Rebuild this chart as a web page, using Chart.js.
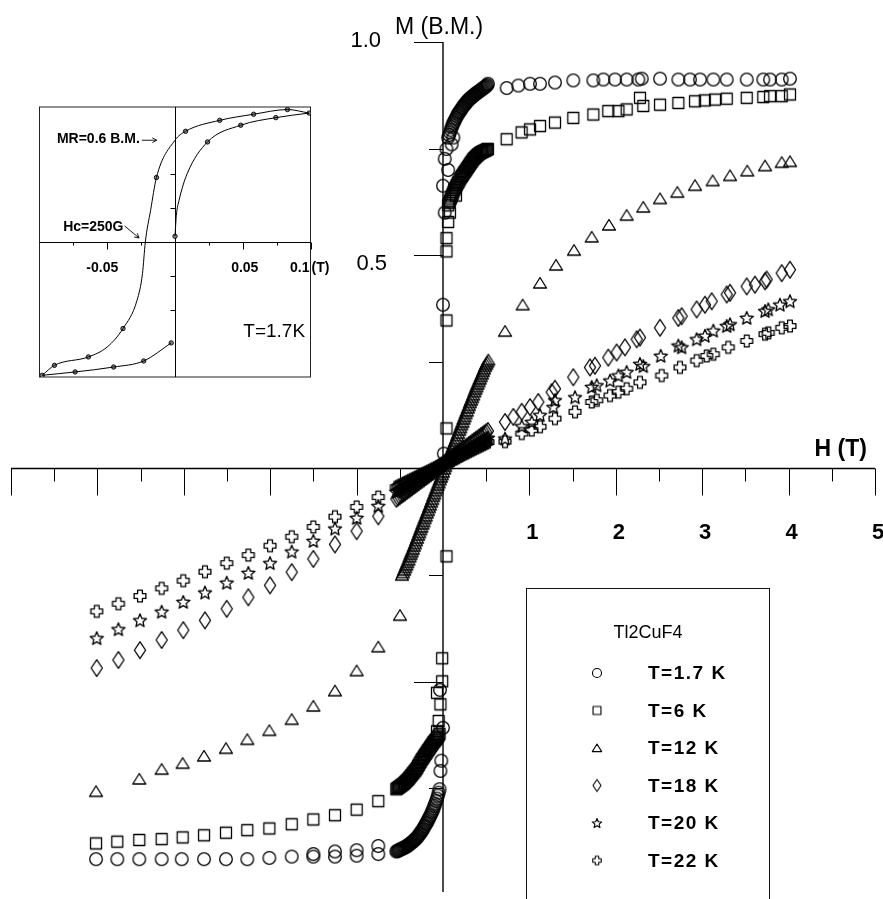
<!DOCTYPE html>
<html>
<head>
<meta charset="utf-8">
<script src="https://cdn.jsdelivr.net/npm/chart.js@4.4.1/dist/chart.umd.min.js"></script>
<style>
  html, body { margin: 0; padding: 0; background: #fff; overflow: hidden; }
  #wrap { position: relative; width: 883px; height: 899px; }
  #main { position: absolute; left: 0; top: 0; }
  #inset { position: absolute; left: 0; top: 90px; }
</style>
</head>
<body>
<div id="wrap">
  <canvas id="main" width="883" height="899"></canvas>
  <canvas id="inset" width="340" height="300"></canvas>
</div>
<script>
const FONT = '"Liberation Sans", Arial, Helvetica, sans-serif';

// series: [H (T), M (B.M.)]
const seriesLabels = ['T=1.7 K', 'T=6 K', 'T=12 K', 'T=18 K', 'T=20 K', 'T=22 K'];
const seriesShapes = ['circle', 'square', 'triangle', 'diamond', 'star', 'cross'];

// sparse points (and the few stray points near H = 0)
const t1_7 = [
  [0.01,0.035],[0.0,0.384],[0.02,0.60],[0.0,0.663],[0.06,0.70],[0.02,0.726],[0.04,0.749],[0.1,0.76],[0.12,0.776],
  [0.737,0.892],[0.872,0.898],[1.007,0.902],[1.123,0.902],[1.296,0.905],[1.508,0.91],[1.74,0.91],[1.856,0.912],[1.991,0.912],
  [2.126,0.912],[2.261,0.912],[2.30,0.914],[2.512,0.914],[2.724,0.912],[2.859,0.912],[2.975,0.912],[3.129,0.912],[3.284,0.912],
  [3.515,0.912],[3.707,0.912],[3.785,0.912],[3.92,0.912],[4.016,0.914],
  [-4.016,-0.916],[-3.77,-0.916],[-3.515,-0.916],[-3.256,-0.916],[-3.024,-0.916],[-2.766,-0.916],[-2.512,-0.916],[-2.265,-0.916],
  [-2.01,-0.913],[-1.751,-0.91],[-1.501,-0.91],[-1.501,-0.904],[-1.25,-0.91],[-1.25,-0.898],[-0.999,-0.908],[-0.999,-0.895],
  [-0.749,-0.904],[-0.749,-0.885],
  [-0.03,-0.709],[-0.02,-0.685],[0.0,-0.608],[-0.035,-0.519]
];

const t6 = [
  [0.04,-0.206],[0.04,0.094],[0.04,0.347],[0.04,0.509],[0.04,0.54],[0.06,0.578],[0.08,0.60],[0.15,0.64],
  [0.737,0.772],[0.91,0.788],[1.007,0.795],[1.123,0.803],[1.296,0.811],[1.508,0.822],[1.74,0.83],[1.913,0.838],[2.03,0.838],
  [2.126,0.842],[2.28,0.869],[2.318,0.85],[2.512,0.853],[2.724,0.857],[2.917,0.861],[3.03,0.863],[3.148,0.865],[3.284,0.867],
  [3.515,0.869],[3.707,0.871],[3.785,0.873],[3.92,0.873],[4.016,0.877],
  [-4.016,-0.879],[-3.77,-0.875],[-3.515,-0.871],[-3.256,-0.869],[-3.013,-0.865],[-2.766,-0.86],[-2.512,-0.854],[-2.265,-0.848],
  [-2.01,-0.844],[-1.751,-0.834],[-1.501,-0.823],[-1.25,-0.813],[-0.999,-0.80],[-0.749,-0.78],
  [-0.07,-0.616],[-0.05,-0.592],[-0.03,-0.553],[-0.07,-0.526],[-0.01,-0.499],[-0.01,-0.445]
];

const t12 = [
  [0.718,0.322],[0.922,0.384],[1.123,0.435],[1.308,0.477],[1.516,0.512],[1.721,0.543],[1.921,0.571],[2.126,0.594],
  [2.318,0.613],[2.512,0.633],[2.712,0.648],[2.917,0.664],[3.121,0.675],[3.322,0.687],[3.522,0.698],[3.727,0.71],
  [3.92,0.718],[4.016,0.72],
  [-4.016,-0.757],[-3.515,-0.728],[-3.256,-0.705],[-3.013,-0.691],[-2.766,-0.674],[-2.512,-0.656],[-2.265,-0.635],
  [-2.01,-0.614],[-1.751,-0.588],[-1.501,-0.557],[-1.25,-0.521],[-0.999,-0.474],[-0.749,-0.418],[-0.498,-0.344]
];

const t18 = [
  [0.718,0.109],[0.814,0.121],[0.911,0.133],[1.007,0.144],[1.103,0.156],[1.258,0.179],[1.296,0.187],[1.508,0.214],
  [1.701,0.237],[1.759,0.241],[1.913,0.26],[2.01,0.272],[2.106,0.284],[2.242,0.303],[2.28,0.307],[2.512,0.33],[2.724,0.353],
  [2.762,0.357],[2.936,0.373],[3.032,0.384],[3.11,0.392],[3.284,0.408],[3.322,0.412],[3.515,0.427],[3.611,0.431],
  [3.727,0.439],[3.746,0.443],[3.92,0.458],[4.016,0.466],
  [-4.008,-0.468],[-3.757,-0.449],[-3.507,-0.426],[-3.256,-0.402],[-3.006,-0.379],[-2.755,-0.356],[-2.503,-0.329],
  [-2.253,-0.302],[-2.002,-0.274],[-1.751,-0.243],[-1.501,-0.212],[-1.25,-0.178],[-0.999,-0.147],[-0.749,-0.112]
];

const t20 = [
  [0.718,0.07],[0.911,0.099],[1.027,0.109],[1.123,0.125],[1.277,0.144],[1.296,0.16],[1.528,0.167],[1.721,0.191],
  [1.779,0.195],[1.933,0.206],[2.03,0.218],[2.126,0.226],[2.28,0.245],[2.318,0.24],[2.52,0.264],[2.724,0.288],[2.762,0.284],
  [2.936,0.303],[3.032,0.311],[3.129,0.323],[3.284,0.334],[3.322,0.338],[3.515,0.353],[3.727,0.369],[3.765,0.373],
  [3.9,0.384],[4.016,0.392],
  [-4.008,-0.398],[-3.757,-0.377],[-3.507,-0.356],[-3.256,-0.336],[-3.006,-0.313],[-2.755,-0.291],[-2.503,-0.268],
  [-2.253,-0.245],[-2.002,-0.222],[-1.751,-0.195],[-1.501,-0.17],[-1.25,-0.141],[-0.999,-0.116],[-0.749,-0.088]
];

const t22 = [
  [0.718,0.063],[0.911,0.082],[1.027,0.09],[1.123,0.098],[1.296,0.117],[1.528,0.133],[1.721,0.156],[1.779,0.16],
  [1.933,0.171],[2.03,0.179],[2.126,0.187],[2.28,0.202],[2.531,0.218],[2.743,0.237],[2.936,0.253],[3.052,0.264],
  [3.129,0.268],[3.302,0.284],[3.515,0.299],[3.727,0.315],[3.765,0.318],[3.92,0.33],[4.016,0.334],
  [-4.008,-0.335],[-3.757,-0.317],[-3.507,-0.299],[-3.256,-0.281],[-3.006,-0.263],[-2.755,-0.242],[-2.503,-0.222],
  [-2.253,-0.203],[-2.002,-0.181],[-1.751,-0.16],[-1.501,-0.137],[-1.25,-0.113],[-0.999,-0.09],[-0.749,-0.067]
];

// dense low-field sweeps (the black bands)
const sweepHpos = [0.06,0.07,0.08,0.09,0.10,0.11,0.12,0.13,0.14,0.15,0.16,0.17,0.18,0.19,0.20,0.21,0.22,0.23,0.24,0.25,
  0.26,0.27,0.28,0.29,0.30,0.31,0.32,0.33,0.34,0.35,0.36,0.37,0.38,0.39,0.40,0.41,0.42,0.43,0.44,0.45,0.46,0.47,0.48,
  0.49,0.50,0.51,0.52];
const sweep1_7pos = [0.776,0.782,0.788,0.794,0.80,0.805,0.81,0.814,0.818,0.822,0.826,0.83,0.833,0.836,0.839,0.842,0.845,
  0.848,0.851,0.853,0.856,0.858,0.861,0.863,0.865,0.867,0.869,0.87,0.872,0.874,0.876,0.877,0.879,0.88,0.882,0.883,0.885,
  0.886,0.888,0.889,0.891,0.892,0.894,0.895,0.897,0.899,0.902];
const sweep6pos = [0.617,0.623,0.628,0.633,0.638,0.643,0.648,0.653,0.657,0.661,0.665,0.669,0.672,0.676,0.68,0.683,0.686,
  0.689,0.692,0.695,0.698,0.701,0.704,0.707,0.71,0.713,0.716,0.719,0.722,0.725,0.727,0.729,0.731,0.733,0.735,0.737,0.738,
  0.74,0.741,0.742,0.743,0.744,0.745,0.746,0.747,0.748,0.749];

const sweepHneg = [-0.54,-0.53,-0.52,-0.51,-0.50,-0.49,-0.48,-0.47,-0.46,-0.45,-0.44,-0.43,-0.42,-0.41,-0.40,-0.39,-0.38,
  -0.37,-0.36,-0.35,-0.34,-0.33,-0.32,-0.31,-0.30,-0.29,-0.28,-0.27,-0.26,-0.25,-0.24,-0.23,-0.22,-0.21,-0.20,-0.19,-0.18,
  -0.17,-0.16,-0.15,-0.14,-0.13,-0.12,-0.11,-0.10,-0.09,-0.08,-0.07,-0.06,-0.05,-0.04];
const sweep1_7neg = [-0.898,-0.897,-0.896,-0.895,-0.894,-0.893,-0.892,-0.891,-0.89,-0.889,-0.888,-0.887,-0.886,-0.884,
  -0.883,-0.881,-0.88,-0.878,-0.876,-0.875,-0.873,-0.871,-0.869,-0.867,-0.865,-0.862,-0.86,-0.857,-0.854,-0.851,-0.848,
  -0.845,-0.841,-0.838,-0.834,-0.831,-0.827,-0.823,-0.819,-0.815,-0.811,-0.806,-0.802,-0.797,-0.791,-0.786,-0.78,-0.774,
  -0.767,-0.76,-0.752];
const sweep6neg = [-0.752,-0.75,-0.749,-0.747,-0.746,-0.744,-0.743,-0.741,-0.74,-0.738,-0.736,-0.734,-0.732,-0.73,-0.728,
  -0.725,-0.723,-0.72,-0.718,-0.715,-0.713,-0.71,-0.708,-0.705,-0.702,-0.698,-0.695,-0.691,-0.688,-0.684,-0.681,-0.678,
  -0.675,-0.672,-0.669,-0.666,-0.663,-0.66,-0.657,-0.654,-0.651,-0.648,-0.645,-0.642,-0.64,-0.637,-0.635,-0.632,-0.629,
  -0.626,-0.622];

const sweepH12 = [-0.475,-0.4625,-0.45,-0.4375,-0.425,-0.4125,-0.4,-0.3875,-0.375,-0.3625,-0.35,-0.3375,-0.325,-0.3125,
  -0.3,-0.2875,-0.275,-0.2625,-0.25,-0.2375,-0.225,-0.2125,-0.2,-0.1875,-0.175,-0.1625,-0.15,-0.1375,-0.125,-0.1125,-0.1,
  -0.0875,-0.075,-0.0625,-0.05,-0.0375,-0.025,-0.0125,0,0.0125,0.025,0.0375,0.05,0.0625,0.075,0.0875,0.1,0.1125,0.125,
  0.1375,0.15,0.1625,0.175,0.1875,0.2,0.2125,0.225,0.2375,0.25,0.2625,0.275,0.2875,0.3,0.3125,0.325,0.3375,0.35,0.3625,
  0.375,0.3875,0.4,0.4125,0.425,0.4375,0.45,0.4625,0.475,0.4875,0.5,0.5125,0.525];
const sweep12 = [-0.25,-0.244,-0.238,-0.232,-0.226,-0.22,-0.214,-0.207,-0.201,-0.195,-0.189,-0.182,-0.176,-0.169,-0.163,
  -0.156,-0.15,-0.143,-0.137,-0.13,-0.124,-0.117,-0.111,-0.104,-0.098,-0.091,-0.085,-0.078,-0.072,-0.065,-0.059,-0.052,
  -0.046,-0.039,-0.033,-0.026,-0.02,-0.014,-0.008,-0.001,0.005,0.012,0.018,0.025,0.031,0.038,0.044,0.051,0.057,0.064,
  0.07,0.077,0.083,0.09,0.096,0.103,0.109,0.116,0.122,0.129,0.135,0.142,0.148,0.155,0.161,0.167,0.173,0.18,0.186,0.192,
  0.198,0.204,0.21,0.216,0.222,0.228,0.234,0.24,0.245,0.25,0.255];

const sweepHband = [-0.54,-0.52,-0.50,-0.48,-0.46,-0.44,-0.42,-0.40,-0.38,-0.36,-0.34,-0.32,-0.30,-0.28,-0.26,-0.24,
  -0.22,-0.20,-0.18,-0.16,-0.14,-0.12,-0.10,-0.08,-0.06,-0.04,-0.02,0.0,0.02,0.04,0.06,0.08,0.10,0.12,0.14,0.16,0.18,
  0.20,0.22,0.24,0.26,0.28,0.30,0.32,0.34,0.36,0.38,0.40,0.42,0.44,0.46,0.48,0.50,0.52];
const sweep18 = [-0.071,-0.068,-0.065,-0.062,-0.059,-0.056,-0.053,-0.05,-0.047,-0.044,-0.041,-0.038,-0.035,-0.032,
  -0.029,-0.026,-0.023,-0.02,-0.017,-0.014,-0.011,-0.008,-0.005,-0.002,0.001,0.004,0.007,0.01,0.013,0.016,0.019,0.022,
  0.025,0.028,0.031,0.034,0.037,0.04,0.043,0.046,0.049,0.052,0.055,0.058,0.061,0.064,0.067,0.07,0.073,0.076,0.079,
  0.082,0.085,0.088];
const sweep20 = [-0.055,-0.053,-0.05,-0.048,-0.046,-0.043,-0.041,-0.038,-0.036,-0.034,-0.031,-0.029,-0.026,-0.024,
  -0.022,-0.019,-0.017,-0.014,-0.012,-0.01,-0.007,-0.005,-0.002,0.0,0.002,0.005,0.007,0.01,0.012,0.014,0.017,0.019,
  0.022,0.024,0.026,0.029,0.031,0.034,0.036,0.038,0.041,0.043,0.046,0.048,0.05,0.053,0.055,0.058,0.06,0.062,0.065,
  0.067,0.07,0.072];
const sweep22 = [-0.044,-0.042,-0.04,-0.038,-0.036,-0.034,-0.032,-0.03,-0.028,-0.026,-0.024,-0.022,-0.02,-0.018,
  -0.016,-0.014,-0.012,-0.01,-0.008,-0.006,-0.004,-0.002,0.0,0.002,0.004,0.006,0.008,0.01,0.012,0.014,0.016,0.018,
  0.02,0.022,0.024,0.026,0.028,0.03,0.032,0.034,0.036,0.038,0.04,0.042,0.044,0.046,0.048,0.05,0.052,0.054,0.056,
  0.058,0.06,0.062];

// axis ticks of the main plot
const hTicks = [-5, -4.5, -4, -3.5, -3, -2.5, -2, -1.5, -1, -0.5, 0.5, 1, 1.5, 2, 2.5, 3, 3.5, 4, 4.5, 5];
const hLabels = [1, 2, 3, 4, 5];
const mTicks = [-0.75, -0.5, -0.25, 0.25, 0.5, 0.75, 1.0];
const mMajor = [-0.5, 0.5, 1.0];
const mLabels = ['0.5', '1.0'];

// inset: hysteresis loop at 1.7 K, H (T) vs M (B.M.)
const insetVirgin = [[0.0,0.034],[0.001,0.158],[0.003,0.247],[0.009,0.405],[0.024,0.593],[0.0485,0.692],[0.0744,0.737],[0.099,0.764]];
const insetDown = [[-0.098,-0.79],[-0.089,-0.731],[-0.0639,-0.681],[-0.05,-0.622],[-0.0384,-0.513],[-0.028,-0.345],
  [-0.024,-0.187],[-0.0219,0.0],[-0.018,0.188],[-0.0137,0.382],[0.0,0.603],[0.0078,0.656],[0.033,0.721],[0.058,0.757],
  [0.083,0.785],[0.099,0.764]];
const insetReturn = [[-0.098,-0.79],[-0.0737,-0.77],[-0.0453,-0.741],[-0.0231,-0.705],[-0.0028,-0.598]];
const insetDots = [[0.0,0.034],[0.024,0.593],[0.0485,0.692],[0.0744,0.737],[0.099,0.764],[0.083,0.785],[0.058,0.757],
  [0.033,0.721],[0.0078,0.656],[-0.0137,0.382],[-0.0384,-0.513],[-0.0639,-0.681],[-0.089,-0.731],[-0.098,-0.79],
  [-0.0737,-0.77],[-0.0453,-0.741],[-0.0231,-0.705],[-0.0028,-0.598]];
const insetHTicks = [-0.075, -0.05, -0.025, 0.025, 0.05, 0.075, 0.1];
const insetHMajor = [-0.05, 0.05, 0.1];
const insetMTicks = [-0.4, -0.2, 0.2, 0.4];

function toXY(arr) {
  return arr.map(p => ({ x: p[0], y: p[1] }));
}
function zipXY(hs, ms) {
  return hs.map((h, i) => ({ x: h, y: ms[i] }));
}

const seriesData = [
  toXY(t1_7).concat(zipXY(sweepHpos, sweep1_7pos), zipXY(sweepHneg, sweep1_7neg)),
  toXY(t6).concat(zipXY(sweepHpos, sweep6pos), zipXY(sweepHneg, sweep6neg)),
  toXY(t12).concat(zipXY(sweepH12, sweep12)),
  toXY(t18).concat(zipXY(sweepHband, sweep18)),
  toXY(t20).concat(zipXY(sweepHband, sweep20)),
  toXY(t22).concat(zipXY(sweepHband, sweep22))
];

// hollow markers drawn on small canvases
function makeMarker(kind, s, lw) {
  const c = document.createElement('canvas');
  const size = 22;
  c.width = size; c.height = size;
  const g = c.getContext('2d');
  const cx = size / 2, cy = size / 2;
  g.strokeStyle = '#000';
  g.lineWidth = lw;
  g.lineJoin = 'round';
  g.beginPath();
  if (kind === 'circle') {
    g.arc(cx, cy, 6.3 * s, 0, Math.PI * 2);
  } else if (kind === 'square') {
    g.rect(cx - 5.5 * s, cy - 5.5 * s, 11 * s, 11 * s);
  } else if (kind === 'triangle') {
    g.moveTo(cx, cy - 5.5 * s);
    g.lineTo(cx + 6.5 * s, cy + 5 * s);
    g.lineTo(cx - 6.5 * s, cy + 5 * s);
    g.closePath();
  } else if (kind === 'diamond') {
    g.moveTo(cx, cy - 8.3 * s);
    g.lineTo(cx + 5.6 * s, cy);
    g.lineTo(cx, cy + 8.3 * s);
    g.lineTo(cx - 5.6 * s, cy);
    g.closePath();
  } else if (kind === 'star') {
    for (let i = 0; i < 10; i++) {
      const r = (i % 2 ? 3.1 : 7) * s;
      const a = -Math.PI / 2 + i * Math.PI / 5;
      const px = cx + r * Math.cos(a), py = cy + 0.5 + r * Math.sin(a);
      if (i === 0) g.moveTo(px, py); else g.lineTo(px, py);
    }
    g.closePath();
  } else if (kind === 'cross') {
    const a = 2.4 * s, b = 5.9 * s;
    const pts = [[-a,-b],[a,-b],[a,-a],[b,-a],[b,a],[a,a],[a,b],[-a,b],[-a,a],[-b,a],[-b,-a],[-a,-a]];
    pts.forEach((p, i) => { if (i === 0) g.moveTo(cx + p[0], cy + p[1]); else g.lineTo(cx + p[0], cy + p[1]); });
    g.closePath();
  }
  g.stroke();
  return c;
}

const plotMarkers = seriesShapes.map(k => makeMarker(k, 1, 1.3));
const legendMarkers = seriesShapes.map(k => makeMarker(k, 0.72, 1.1));

const crossAxes = {
  id: 'crossAxes',
  beforeDatasetsDraw(chart) {
    const { ctx, chartArea } = chart;
    const x = chart.scales.x, y = chart.scales.y;
    const x0 = x.getPixelForValue(0), y0 = y.getPixelForValue(0);
    ctx.save();
    ctx.strokeStyle = '#000';
    ctx.lineWidth = 1.4;
    ctx.beginPath();
    ctx.moveTo(x.getPixelForValue(-5), y0);
    ctx.lineTo(x.getPixelForValue(5), y0);
    ctx.moveTo(x0, y.getPixelForValue(1));
    ctx.lineTo(x0, chartArea.bottom);
    ctx.stroke();

    ctx.lineWidth = 1;
    ctx.beginPath();
    hTicks.forEach(v => {
      const px = Math.round(x.getPixelForValue(v)) + 0.5;
      const len = Number.isInteger(v) ? 27 : 13;
      ctx.moveTo(px, y0);
      ctx.lineTo(px, y0 + len);
    });
    mTicks.forEach(v => {
      const py = Math.round(y.getPixelForValue(v)) + 0.5;
      const len = mMajor.includes(v) ? 29 : 14;
      ctx.moveTo(x0, py);
      ctx.lineTo(x0 - len, py);
    });
    ctx.stroke();

    ctx.fillStyle = '#000';
    ctx.font = 'bold 22px ' + FONT;
    ctx.textAlign = 'center';
    ctx.textBaseline = 'alphabetic';
    hLabels.forEach(v => {
      ctx.fillText(String(v), x.getPixelForValue(v) + 3, y0 + 71);
    });

    ctx.font = '22px ' + FONT;
    ctx.textAlign = 'right';
    const labelDy = { '0.5': 15, '1.0': 5 };
    const labelDx = { '0.5': 56, '1.0': 62 };
    mLabels.forEach(t => {
      ctx.fillText(t, x0 - labelDx[t], y.getPixelForValue(parseFloat(t)) + labelDy[t]);
    });

    ctx.textAlign = 'left';
    ctx.font = '23px ' + FONT;
    ctx.fillText('M (B.M.)', x0 - 48, 34);
    ctx.font = 'bold 23px ' + FONT;
    ctx.fillText('H (T)', x.getPixelForValue(4.3), y0 - 12);
    ctx.restore();
  },
  afterDraw(chart) {
    // boxed legend, lower right
    const ctx = chart.ctx;
    ctx.save();
    ctx.strokeStyle = '#111';
    ctx.lineWidth = 1;
    ctx.strokeRect(526.5, 588.5, 243, 330);
    ctx.fillStyle = '#000';
    ctx.textBaseline = 'middle';
    ctx.textAlign = 'center';
    ctx.font = '18px ' + FONT;
    ctx.fillText('Tl2CuF4', 648, 633);
    ctx.textAlign = 'left';
    ctx.font = 'bold 19px ' + FONT;
    ctx.letterSpacing = '1.5px';
    seriesLabels.forEach((lab, i) => {
      const yy = 673 + i * 37.5;
      const m = legendMarkers[i];
      ctx.drawImage(m, 597 - m.width / 2, yy - m.height / 2);
      ctx.fillText(lab, 648, yy + 1);
    });
    ctx.restore();
  }
};

new Chart(document.getElementById('main'), {
  type: 'scatter',
  data: {
    datasets: seriesData.map((d, i) => ({
      label: seriesLabels[i],
      data: d,
      pointStyle: plotMarkers[i],
      pointRadius: 6,
      pointHoverRadius: 6
    }))
  },
  options: {
    responsive: false,
    animation: false,
    devicePixelRatio: 1,
    events: [],
    layout: { padding: { left: 11, right: 8, top: 42, bottom: 0 } },
    plugins: { legend: { display: false }, tooltip: { enabled: false } },
    scales: {
      x: { type: 'linear', min: -5, max: 5, display: false },
      y: { type: 'linear', min: -0.993, max: 1.0, display: false }
    }
  },
  plugins: [crossAxes]
});

function arrow(ctx, x1, y1, x2, y2) {
  const a = Math.atan2(y2 - y1, x2 - x1);
  ctx.beginPath();
  ctx.moveTo(x1, y1);
  ctx.lineTo(x2, y2);
  ctx.moveTo(x2 - 5 * Math.cos(a - 0.5), y2 - 5 * Math.sin(a - 0.5));
  ctx.lineTo(x2, y2);
  ctx.lineTo(x2 - 5 * Math.cos(a + 0.5), y2 - 5 * Math.sin(a + 0.5));
  ctx.stroke();
}

const insetFrame = {
  id: 'insetFrame',
  beforeDatasetsDraw(chart) {
    const { ctx, chartArea: ca } = chart;
    const x = chart.scales.x, y = chart.scales.y;
    const x0 = Math.round(x.getPixelForValue(0)) + 0.5, y0 = Math.round(y.getPixelForValue(0)) + 0.5;
    ctx.save();
    ctx.strokeStyle = '#222';
    ctx.lineWidth = 1;
    ctx.strokeRect(ca.left, ca.top, ca.right - ca.left, ca.bottom - ca.top);
    ctx.strokeStyle = '#000';
    ctx.beginPath();
    ctx.moveTo(ca.left, y0); ctx.lineTo(ca.right, y0);
    ctx.moveTo(x0, ca.top); ctx.lineTo(x0, ca.bottom);
    insetHTicks.forEach(v => {
      const px = Math.round(x.getPixelForValue(v)) + 0.5;
      const len = insetHMajor.includes(v) ? 7 : 3;
      ctx.moveTo(px, y0); ctx.lineTo(px, y0 + len);
    });
    insetMTicks.forEach(v => {
      const py = Math.round(y.getPixelForValue(v)) + 0.5;
      ctx.moveTo(x0, py); ctx.lineTo(x0 - 5, py);
    });
    ctx.stroke();

    ctx.fillStyle = '#000';
    ctx.font = 'bold 14px ' + FONT;
    ctx.textBaseline = 'middle';
    ctx.textAlign = 'center';
    ctx.fillText('-0.05', x.getPixelForValue(-0.05) - 5, y0 + 26);
    ctx.fillText('0.05', x.getPixelForValue(0.05) + 2, y0 + 26);
    ctx.textAlign = 'right';
    ctx.fillText('0.1', x.getPixelForValue(0.1) - 1, y0 + 26);
    ctx.textAlign = 'left';
    ctx.fillText('(T)', x.getPixelForValue(0.1) + 1, y0 + 26);

    ctx.textAlign = 'right';
    ctx.fillText('MR=0.6 B.M.', x.getPixelForValue(-0.026), y.getPixelForValue(0.61));
    ctx.fillText('Hc=250G', x.getPixelForValue(-0.038), y.getPixelForValue(0.09));
    ctx.lineWidth = 0.9;
    arrow(ctx, x.getPixelForValue(-0.0245), y.getPixelForValue(0.603), x.getPixelForValue(-0.0135), y.getPixelForValue(0.603));
    arrow(ctx, x.getPixelForValue(-0.0372), y.getPixelForValue(0.095), x.getPixelForValue(-0.0265), y.getPixelForValue(0.024));

    ctx.font = '19px ' + FONT;
    ctx.fillText('T=1.7K', x.getPixelForValue(0.096), y.getPixelForValue(-0.53));
    ctx.restore();
  }
};

const lineStyle = {
  showLine: true,
  borderColor: '#000',
  borderWidth: 1,
  pointRadius: 0,
  cubicInterpolationMode: 'monotone'
};

new Chart(document.getElementById('inset'), {
  type: 'scatter',
  data: {
    datasets: [
      Object.assign({ data: toXY(insetVirgin) }, lineStyle),
      Object.assign({ data: toXY(insetDown) }, lineStyle),
      Object.assign({ data: toXY(insetReturn) }, lineStyle),
      {
        data: toXY(insetDots),
        pointRadius: 2.2,
        pointBackgroundColor: '#888',
        pointBorderColor: '#000',
        pointBorderWidth: 0.9
      }
    ]
  },
  options: {
    responsive: false,
    animation: false,
    devicePixelRatio: 1,
    events: [],
    layout: { padding: { left: 39.5, right: 29.5, top: 17, bottom: 13 } },
    plugins: { legend: { display: false }, tooltip: { enabled: false } },
    scales: {
      x: { type: 'linear', min: -0.1, max: 0.1, display: false },
      y: { type: 'linear', min: -0.8, max: 0.8, display: false }
    }
  },
  plugins: [insetFrame]
});
</script>
</body>
</html>
